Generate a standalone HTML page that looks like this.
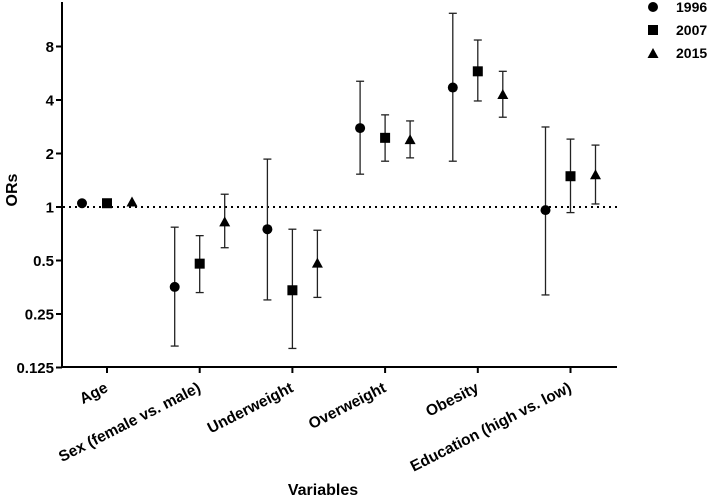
<!DOCTYPE html>
<html><head><meta charset="utf-8"><style>
body{margin:0;background:#fff;}
svg{display:block;font-family:"Liberation Sans",Arial,sans-serif;font-weight:bold;}
</style></head><body>
<svg id="c" width="708" height="499" viewBox="0 0 708 499"></svg>
<script>
const categories=["Age","Sex (female vs. male)","Underweight","Overweight","Obesity","Education (high vs. low)"];
const seriesNames=["1996","2007","2015"];
const or1996=[1.05,0.355,0.75,2.78,4.7,0.96];
const lo1996=[1.05,0.165,0.30,1.53,1.81,0.32];
const hi1996=[1.05,0.77,1.86,5.1,12.3,2.82];
const or2007=[1.05,0.48,0.34,2.45,5.8,1.49];
const lo2007=[1.05,0.33,0.16,1.81,3.95,0.93];
const hi2007=[1.05,0.69,0.75,3.3,8.7,2.41];
const or2015=[1.06,0.82,0.48,2.38,4.27,1.51];
const lo2015=[1.06,0.59,0.31,1.89,3.2,1.04];
const hi2015=[1.06,1.18,0.74,3.05,5.8,2.23];
const yTicks=[0.125,0.25,0.5,1,2,4,8];
const yTickLabels=["0.125","0.25","0.5","1","2","4","8"];

const svg=document.getElementById('c');
const NS='http://www.w3.org/2000/svg';
function mk(t,a,p){const e=document.createElementNS(NS,t);for(const k in a)e.setAttribute(k,a[k]);(p||svg).appendChild(e);return e;}
const y=v=>207-53.5*Math.log2(v);
const x0=107,dx=92.7;
const xc=i=>x0+i*dx;
const off=[-25,0,25];

let ya=mk('line',{x1:62,y1:2,x2:62,y2:368,stroke:'#000','stroke-width':2});


let xa=mk('line',{x1:61,y1:367,x2:617,y2:367,stroke:'#000','stroke-width':2});


yTicks.forEach((v,i)=>{
  const yy=y(v);
  mk('line',{x1:56,y1:yy,x2:62,y2:yy,stroke:'#000','stroke-width':2});
  const t=mk('text',{x:54,y:yy+5.5,'text-anchor':'end','font-size':15});
  t.textContent=yTickLabels[i];
  
  
});
const ref=mk('line',{x1:63,y1:y(1),x2:617,y2:y(1),stroke:'#000','stroke-width':2,'stroke-dasharray':'2,4'});


categories.forEach((c,i)=>{
  const xx=xc(i);
  mk('line',{x1:xx,y1:367,x2:xx,y2:373,stroke:'#000','stroke-width':2});
  const t=mk('text',{x:0,y:0,'text-anchor':'end','font-size':15.5,transform:`translate(${xx+2},${391}) rotate(-27)`});
  t.textContent=c;
  
  
});
const yt=mk('text',{x:0,y:0,'text-anchor':'middle','font-size':16,transform:'translate(17,190) rotate(-90)'});
yt.textContent='ORs';


const xt=mk('text',{x:323,y:495,'text-anchor':'middle','font-size':16});
xt.textContent='Variables';



function marker(s,cx,cy,p){
  if(s===0)return mk('circle',{cx:cx,cy:cy,r:5,fill:'#000'},p);
  if(s===1)return mk('rect',{x:cx-5,y:cy-5,width:10,height:10,fill:'#000'},p);
  return mk('polygon',{points:`${cx},${cy-6} ${cx+5.5},${cy+4} ${cx-5.5},${cy+4}`,fill:'#000'},p);
}
const ors=[or1996,or2007,or2015],los=[lo1996,lo2007,lo2015],his=[hi1996,hi2007,hi2015];
for(let s=0;s<3;s++){
  const g=mk('g',{});
  
  
  categories.forEach((c,i)=>{
    const cx=xc(i)+off[s];
    if(his[s][i]!==los[s][i]){
      const a=y(his[s][i]),b=y(los[s][i]);
      mk('line',{x1:cx,y1:a,x2:cx,y2:b,stroke:'#222','stroke-width':1.3},g);
      mk('line',{x1:cx-4,y1:a,x2:cx+4,y2:a,stroke:'#222','stroke-width':1.3},g);
      mk('line',{x1:cx-4,y1:b,x2:cx+4,y2:b,stroke:'#222','stroke-width':1.3},g);
    }
    const m=marker(s,cx,y(ors[s][i]),g);
    
    
  });
}
const lg=mk('g',{});


seriesNames.forEach((n,s)=>{
  const yy=7+s*23;
  const e=mk('g',{},lg);
  
  
  marker(s,653,yy+(s===2?1:0),e);
  const t=mk('text',{x:676,y:yy+5,'font-size':14},e);
  t.textContent=n;
});
</script>
</body></html>
